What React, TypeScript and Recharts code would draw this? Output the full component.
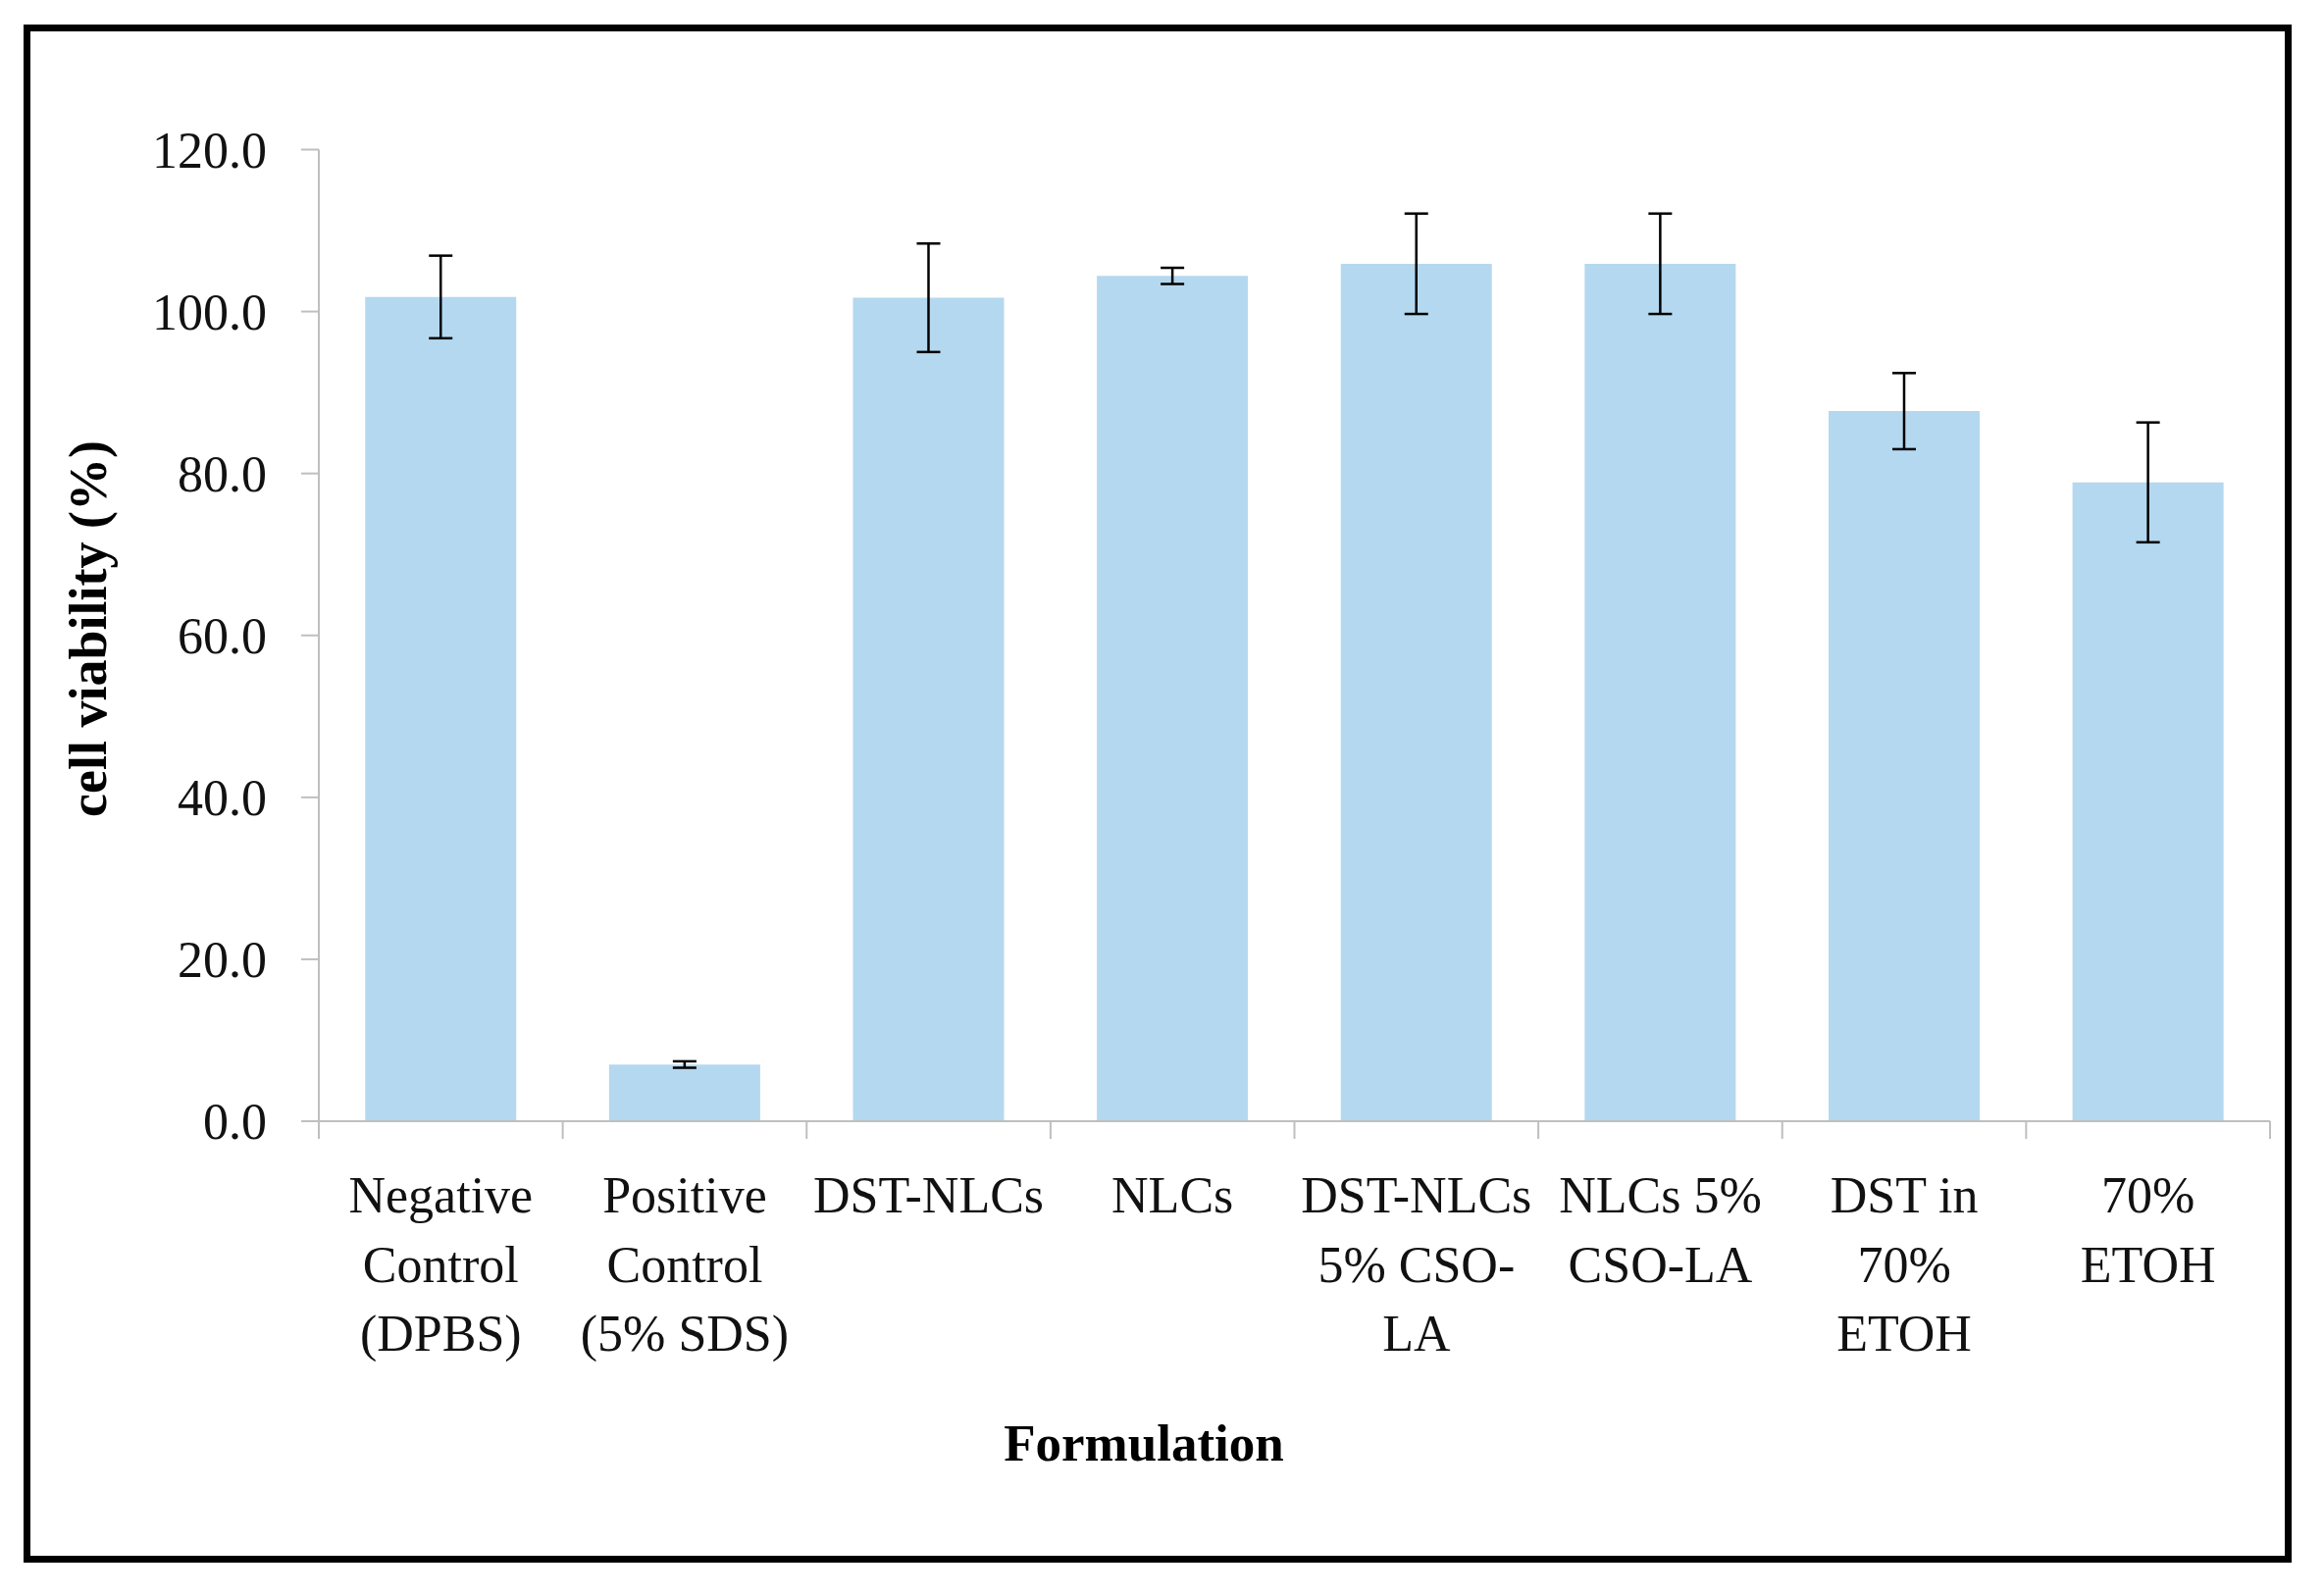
import { BarChart, Bar, XAxis, YAxis, ErrorBar, Label } from 'recharts';

// cell viability per formulation
const formulations = [
  'Negative Control (DPBS)',
  'Positive Control (5% SDS)',
  'DST-NLCs',
  'NLCs',
  'DST-NLCs 5% CSO-LA',
  'NLCs 5% CSO-LA',
  'DST in 70% ETOH',
  '70% ETOH',
];
const labelLines = [
  ['Negative', 'Control', '(DPBS)'],
  ['Positive', 'Control', '(5% SDS)'],
  ['DST-NLCs'],
  ['NLCs'],
  ['DST-NLCs', '5% CSO-', 'LA'],
  ['NLCs 5%', 'CSO-LA'],
  ['DST in', '70%', 'ETOH'],
  ['70%', 'ETOH'],
];
const viability = [101.8, 7.0, 101.7, 104.4, 105.9, 105.9, 87.7, 78.9];
const viabilitySd = [5.1, 0.4, 6.7, 1.0, 6.2, 6.2, 4.7, 7.4];
const yTicks = [0, 20, 40, 60, 80, 100, 120];

const data = formulations.map((name, i) => ({
  name,
  value: viability[i],
  sd: viabilitySd[i],
}));

const W = 2369;
const H = 1626;
const PLOT_LEFT = 325;
const PLOT_RIGHT = 2314;
const PLOT_TOP = 152.5;
const PLOT_BOTTOM = 1143;
const BAND = (PLOT_RIGHT - PLOT_LEFT) / formulations.length;

const FONT = '"Liberation Serif", "Times New Roman", serif';
const AXIS_GREY = '#bfbfbf';

function CategoryTick(props: any) {
  const { x, y, index } = props;
  const lines = labelLines[index] ?? [];
  const last = index === formulations.length - 1;
  return (
    <g>
      <line x1={x - BAND / 2} x2={x - BAND / 2} y1={y} y2={y + 18} stroke={AXIS_GREY} strokeWidth={2} />
      {last && (
        <line x1={x + BAND / 2} x2={x + BAND / 2} y1={y} y2={y + 18} stroke={AXIS_GREY} strokeWidth={2} />
      )}
      {lines.map((ln, i) => (
        <text
          key={i}
          x={x}
          y={y + 93 + i * 70.5}
          textAnchor="middle"
          fontFamily={FONT}
          fontSize={52}
          fill="#111"
        >
          {ln}
        </text>
      ))}
    </g>
  );
}

function XTitle() {
  return (
    <text x={1166} y={1489} textAnchor="middle" fontFamily={FONT} fontSize={53} fontWeight="bold" fill="#000">
      Formulation
    </text>
  );
}

function YTitle() {
  return (
    <text
      x={108}
      y={641}
      transform="rotate(-90 108 641)"
      textAnchor="middle"
      fontFamily={FONT}
      fontSize={54}
      fontWeight="bold"
      fill="#000"
    >
      cell viability (%)
    </text>
  );
}

export default function App() {
  return (
    <div style={{ position: 'absolute', left: 0, top: 0, width: W, height: H, background: '#fff' }}>
      <BarChart
        width={W}
        height={H}
        data={data}
        margin={{ top: PLOT_TOP, right: W - PLOT_RIGHT, bottom: 0, left: 0 }}
        barCategoryGap="19%"
      >
        <XAxis
          dataKey="name"
          height={H - PLOT_BOTTOM}
          interval={0}
          tickSize={0}
          tickMargin={0}
          tickLine={false}
          axisLine={{ stroke: AXIS_GREY, strokeWidth: 2 }}
          tick={<CategoryTick />}
        >
          <Label content={<XTitle />} />
        </XAxis>
        <YAxis
          width={PLOT_LEFT}
          domain={[0, 120]}
          ticks={yTicks}
          interval={0}
          tickSize={18}
          tickMargin={35}
          tickFormatter={(v: number) => v.toFixed(1)}
          tick={{ fontFamily: FONT, fontSize: 52, fill: '#111' }}
          axisLine={{ stroke: AXIS_GREY, strokeWidth: 2 }}
          tickLine={{ stroke: AXIS_GREY, strokeWidth: 2 }}
        >
          <Label content={<YTitle />} />
        </YAxis>
        <Bar dataKey="value" fill="#b4d8ef" isAnimationActive={false}>
          <ErrorBar dataKey="sd" direction="y" width={12} stroke="#000" strokeWidth={2.5} isAnimationActive={false} />
        </Bar>
      </BarChart>
      <div
        style={{
          position: 'absolute',
          left: 24,
          top: 25,
          width: 2312,
          height: 1568,
          border: '7px solid #000',
          boxSizing: 'border-box',
          pointerEvents: 'none',
        }}
      />
    </div>
  );
}
